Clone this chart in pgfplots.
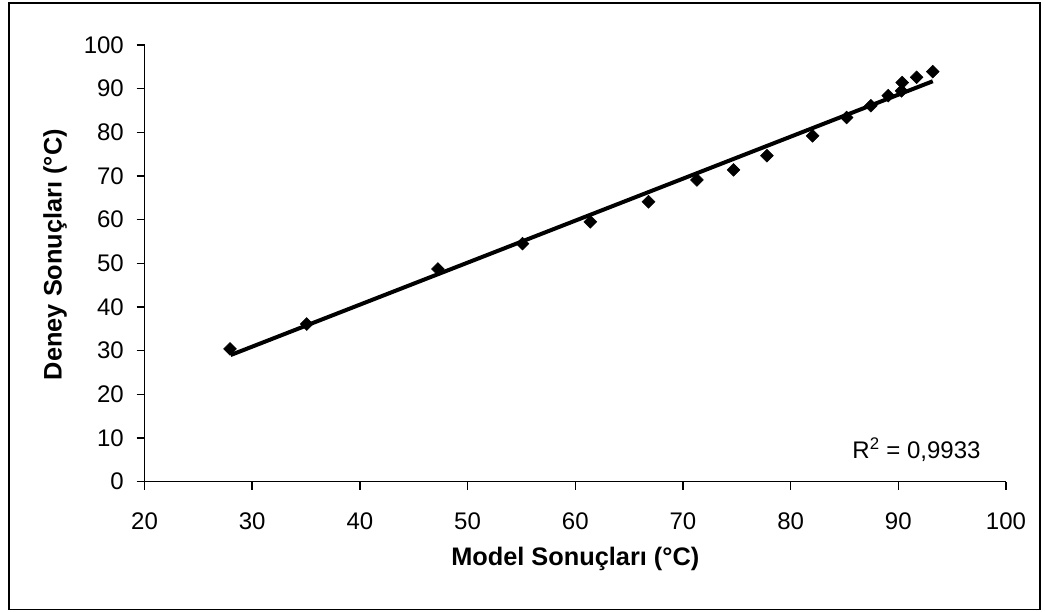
\documentclass[border=0pt]{standalone}
\usepackage{pgfplots}
\pgfplotsset{compat=1.18}
\usepackage{fontspec}
\setmainfont{Liberation Sans}
\begin{document}
\begin{tikzpicture}
\begin{axis}[
 scale only axis, width=646.1pt, height=327.5pt,
 xmin=20,xmax=100,ymin=0,ymax=100,
 xtick={20,30,...,100}, ytick={0,10,...,100},
 axis x line=bottom, axis y line=left,
 axis line style={-, line width=1.1pt},
 tick align=outside, major tick length=6pt,
 tick style={black, line width=1.1pt},
 /pgf/number format/assume math mode=true,
 ticklabel style={font=\fontsize{18}{18}\selectfont},
 xticklabel style={yshift=-14pt},
 yticklabel style={xshift=-6pt},
 xlabel={Model Sonuçları (°C)}, ylabel={Deney Sonuçları (°C)},
 label style={font=\fontsize{19}{19}\selectfont\bfseries},
 xlabel style={at={(axis description cs:0.5,-0.1763)},anchor=center},
 ylabel style={at={(axis description cs:-0.1039,0.52)},anchor=center},
 clip=false,
]
\addplot[only marks, mark=square*, mark size=3.4pt, mark options={rotate=45, fill=black, draw=black}] coordinates {
(27.94,30.4) (35.06,36.1) (47.25,48.7) (55.1,54.5) (61.4,59.5) (66.8,64.1)
(71.3,69.1) (74.7,71.4) (77.8,74.65) (82.04,79.2) (85.2,83.4) (87.45,86.1)
(89.06,88.4) (90.36,91.4) (90.3,89.5) (91.7,92.6) (93.2,93.9)
};
\addplot[line width=3pt, no marks] coordinates {(28,29.0) (93.2,91.7)};
\node[anchor=base west, font=\fontsize{18}{18}\selectfont] at (axis cs:85.3,5.4) {R\textsuperscript{2} = 0,9933};
\end{axis}
\draw[line width=1.1pt] ([shift={(-101.6pt,-95.9pt)}]current axis.south west) rectangle ([shift={(25.5pt,31.5pt)}]current axis.north east);
\path ([shift={(-108.4pt,-97pt)}]current axis.south west) rectangle ([shift={(29.25pt,33.75pt)}]current axis.north east);
\end{tikzpicture}
\end{document}
